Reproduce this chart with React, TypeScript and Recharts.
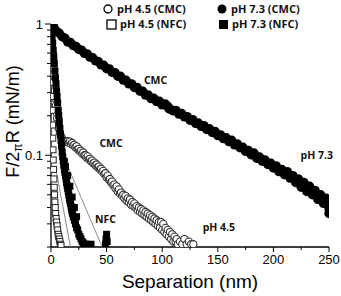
import { ScatterChart, Scatter, XAxis, YAxis, ReferenceDot } from 'recharts';

// [separation (nm), F/2piR (mN/m)]
const cmc73: number[][] = [
  [0, 1.0], [2.5, 0.95], [5, 0.88], [7.5, 0.85], [10, 0.8], [12.5, 0.78], [15, 0.73], [17.5, 0.725],
  [20, 0.685], [22.5, 0.675], [25, 0.64], [27.5, 0.632], [30, 0.598], [32.5, 0.592], [35, 0.56],
  [37.5, 0.553], [40, 0.524], [42.5, 0.518], [45, 0.488], [47.5, 0.485], [50, 0.456], [52.5, 0.455],
  [55, 0.428], [57.5, 0.426], [60, 0.4], [62.5, 0.4], [65, 0.374], [67.5, 0.373], [70, 0.35],
  [72.5, 0.35], [75, 0.328], [77.5, 0.328], [80, 0.308], [82.5, 0.307], [85, 0.287], [87.5, 0.288],
  [90, 0.27], [92.5, 0.272], [95, 0.256], [97.5, 0.258], [100, 0.242], [102.5, 0.246], [105, 0.236],
  [106, 0.226], [107.5, 0.224], [110, 0.218], [112.5, 0.219], [115, 0.206], [117.5, 0.208],
  [120, 0.196], [122.5, 0.197], [125, 0.185], [127.5, 0.187], [130, 0.175], [132.5, 0.176],
  [135, 0.166], [137.5, 0.168], [140, 0.157], [142.5, 0.159], [145, 0.149], [147.5, 0.152],
  [150, 0.141], [152.5, 0.143], [155, 0.134], [157.5, 0.136], [160, 0.127], [162.5, 0.13],
  [165, 0.12], [167.5, 0.122], [170, 0.114], [172.5, 0.115], [175, 0.107], [177.5, 0.109],
  [180, 0.101], [182.5, 0.104], [185, 0.095], [187.5, 0.097], [190, 0.09], [192.5, 0.092],
  [195, 0.085], [197.5, 0.087], [200, 0.08], [202.5, 0.083], [205, 0.075], [207.5, 0.078],
  [210, 0.071], [212.5, 0.075], [215, 0.067], [217.5, 0.07], [220, 0.062], [222.5, 0.066],
  [225, 0.057], [227.5, 0.062], [230, 0.053], [232.5, 0.058], [235, 0.05], [237.5, 0.054],
  [240, 0.046], [242.5, 0.05], [245, 0.043], [247.5, 0.047], [250, 0.039], [249, 0.045], [250, 0.036],
];

const cmc45: number[][] = [
  [0, 1.0], [0.5, 0.85], [1, 0.72], [1.5, 0.6], [2, 0.5], [2.5, 0.42], [3, 0.36], [3.5, 0.31],
  [4, 0.27], [4.5, 0.24], [5, 0.21], [5.5, 0.19], [6, 0.175], [7, 0.16], [8, 0.148], [9, 0.14],
  [10, 0.135], [11, 0.13], [12, 0.128], [13, 0.127], [14, 0.126], [15, 0.128], [16, 0.125],
  [17, 0.127], [18, 0.122], [19, 0.124], [20, 0.119], [21, 0.12], [22, 0.115], [23, 0.117],
  [24, 0.111], [25, 0.112], [26, 0.107], [27, 0.108], [28, 0.103], [29, 0.105], [30, 0.1],
  [31, 0.1], [32, 0.096], [33, 0.098], [34, 0.093], [35, 0.094], [36, 0.09], [37, 0.091],
  [38, 0.087], [39, 0.088], [40, 0.084], [41, 0.085], [42, 0.081], [43, 0.082], [44, 0.078],
  [45, 0.079], [46, 0.075], [47, 0.076], [48, 0.072], [49, 0.073], [50, 0.068], [51, 0.07],
  [52, 0.065], [53, 0.066], [54, 0.062], [55, 0.063], [56, 0.059], [57, 0.06], [58, 0.056],
  [59, 0.058], [60, 0.053], [61, 0.055], [62, 0.051], [63, 0.052], [64, 0.049], [65, 0.05],
  [66, 0.047], [67, 0.049], [68, 0.045], [69, 0.047], [70, 0.044], [71, 0.046], [72, 0.042],
  [73, 0.044], [74, 0.041], [75, 0.043], [76, 0.04], [77, 0.041], [78, 0.038], [79, 0.04],
  [80, 0.037], [81, 0.039], [82, 0.036], [83, 0.038], [84, 0.035], [85, 0.037], [86, 0.034],
  [87, 0.036], [88, 0.033], [89, 0.035], [90, 0.032], [91, 0.034], [92, 0.031], [93, 0.033],
  [94, 0.03], [95, 0.032], [96, 0.029], [97, 0.031], [98, 0.028], [99, 0.031], [100, 0.027],
  [101, 0.03], [102, 0.026], [103, 0.028], [104, 0.025], [105, 0.027], [106, 0.024], [107, 0.026],
  [108, 0.023], [109, 0.025], [110, 0.022], [111, 0.024], [112, 0.022], [113, 0.023], [114, 0.021],
  [116, 0.022], [118, 0.021], [120, 0.023], [122, 0.021], [124, 0.022], [126, 0.021], [128, 0.021],
];

const nfc45: number[][] = [
  [0, 1.0], [0.2, 0.78], [0.4, 0.6], [0.6, 0.46], [0.8, 0.36], [1, 0.28], [1.2, 0.22], [1.4, 0.17],
  [1.6, 0.135], [1.8, 0.11], [2, 0.092], [2.3, 0.078], [2.6, 0.066], [2.9, 0.057], [3.2, 0.05],
  [3.5, 0.044], [3.8, 0.04], [4.2, 0.036], [4.6, 0.033], [5, 0.031], [5.5, 0.029], [6, 0.027],
  [6.5, 0.025], [7, 0.024], [7.5, 0.023], [8, 0.022], [8.5, 0.021], [9, 0.0205],
];

const nfc73: number[][] = [
  [0, 1.0], [0.5, 0.9], [1, 0.8], [1.5, 0.71], [2, 0.63], [2.5, 0.56], [3, 0.5], [3.5, 0.44],
  [4, 0.39], [4.5, 0.35], [5, 0.31], [5.5, 0.28], [6, 0.25], [6.5, 0.22], [7, 0.2], [7.5, 0.18],
  [8, 0.16], [8.5, 0.145], [9, 0.13], [9.5, 0.118], [10, 0.106], [10.5, 0.098], [11, 0.09],
  [11.5, 0.084], [12, 0.078], [12.5, 0.074], [13, 0.07], [13.5, 0.066], [14, 0.062], [14.5, 0.059],
  [15, 0.056], [15.5, 0.053], [16, 0.05], [16.5, 0.047], [17, 0.045], [17.5, 0.043], [18, 0.041],
  [18.5, 0.039], [19, 0.037], [19.5, 0.036], [20, 0.034], [21, 0.032], [22, 0.03], [23, 0.028],
  [24, 0.027], [25, 0.025], [26, 0.024], [27, 0.023], [28, 0.022], [29, 0.0215], [30, 0.021],
  [32, 0.021], [34, 0.0205], [36, 0.021], [12, 0.09], [13, 0.082], [15, 0.07], [17, 0.058],
  [19, 0.048], [21, 0.04], [23, 0.034], [49, 0.021], [49.5, 0.023], [50, 0.025], [50.5, 0.022],
];

const fitA: number[][] = [[12, 0.095], [46, 0.02]];
const fitB: number[][] = [[5, 0.074], [17.5, 0.02]];

const xTicks = [0, 25, 50, 75, 100, 125, 150, 175, 200, 225, 250];
const xLabelled = [0, 50, 100, 150, 200, 250];
const yTicks = [0.02, 0.03, 0.04, 0.05, 0.06, 0.07, 0.08, 0.09, 0.1, 0.2, 0.3, 0.4, 0.5, 0.6, 0.7, 0.8, 0.9, 1];
const yLabelled = [0.1, 1];

const notes = [
  { text: 'CMC', x: 94, y: 0.37 },
  { text: 'CMC', x: 54, y: 0.123 },
  { text: 'pH 7.3', x: 239, y: 0.1 },
  { text: 'NFC', x: 49, y: 0.0325 },
  { text: 'pH 4.5', x: 151, y: 0.028 },
];

const toPts = (arr: number[][]) => arr.map(([x, y]) => ({ x, y }));

const axisFont = '"Liberation Sans", Arial, sans-serif';
const boldFont = '"Open Sans", sans-serif';

const OpenCircle = (p: any) => <circle cx={p.cx} cy={p.cy} r={3.6} fill="#fff" stroke="#333" strokeWidth={1.1} />;
const FilledCircle = (p: any) => <circle cx={p.cx} cy={p.cy} r={4.7} fill="#000" />;
const OpenSquare = (p: any) => <rect x={p.cx - 3} y={p.cy - 3} width={6} height={6} fill="#fff" stroke="#222" strokeWidth={1} />;
const FilledSquare = (p: any) => <rect x={p.cx - 3.5} y={p.cy - 3.5} width={7} height={7} fill="#000" />;
const NoDot = () => <g />;

function XTick({ x, y, payload }: any) {
  const major = xLabelled.includes(payload.value);
  return (
    <g>
      <line x1={x} x2={x} y1={y} y2={y + (major ? 5 : 3)} stroke="#000" />
      {major && (
        <text x={x} y={y + 17} textAnchor="middle" fontSize={13} fontFamily={axisFont} fill="#000">
          {payload.value}
        </text>
      )}
    </g>
  );
}

function YTick({ x, y, payload }: any) {
  const major = yLabelled.includes(payload.value);
  const len = major ? 6 : 4;
  return (
    <g>
      <line x1={x} x2={x - len} y1={y} y2={y} stroke="#000" />
      {major && (
        <text x={x - 8} y={y} dy="0.35em" textAnchor="end" fontSize={13} fontFamily={axisFont} fill="#000">
          {payload.value}
        </text>
      )}
    </g>
  );
}

function YTitle({ viewBox }: any) {
  const cx = viewBox.x + 13;
  const cy = viewBox.y + viewBox.height / 2 - 14;
  return (
    <text x={cx} y={cy} dy="0.35em" textAnchor="middle" transform={`rotate(-90, ${cx}, ${cy})`}
      fontSize={18} fontFamily={axisFont} fill="#000">
      <tspan>F/2</tspan>
      <tspan fontSize={12} dy={3}>π</tspan>
      <tspan dy={-3}>R (mN/m)</tspan>
    </text>
  );
}

function XTitle({ viewBox }: any) {
  return (
    <text x={viewBox.x + viewBox.width / 2} y={viewBox.y + 41} textAnchor="middle"
      fontSize={19} fontFamily={axisFont} fill="#000">
      Separation (nm)
    </text>
  );
}

const legendItems = [
  { label: 'pH 4.5 (CMC)', left: 103, top: 2, shape: 'oc' },
  { label: 'pH 4.5 (NFC)', left: 106, top: 17, shape: 'os' },
  { label: 'pH 7.3 (CMC)', left: 217, top: 2, shape: 'fc' },
  { label: 'pH 7.3 (NFC)', left: 218, top: 17, shape: 'fs' },
];

function LegendSymbol({ shape }: { shape: string }) {
  return (
    <svg width={12} height={12} style={{ marginRight: 2 }}>
      {shape === 'oc' && <circle cx={5} cy={6} r={4} fill="#fff" stroke="#000" strokeWidth={1.3} />}
      {shape === 'fc' && <circle cx={5} cy={6} r={4.5} fill="#000" />}
      {shape === 'os' && <rect x={1} y={2} width={9} height={9} fill="#fff" stroke="#000" strokeWidth={1.3} />}
      {shape === 'fs' && <rect x={1} y={2} width={9} height={9} fill="#000" />}
    </svg>
  );
}

export default function App() {
  return (
    <div style={{ position: 'absolute', left: 0, top: 0, width: 341, height: 296, background: '#fff' }}>
      <ScatterChart width={341} height={296} margin={{ top: 24, right: 12, bottom: 0, left: 0 }}>
        <XAxis
          type="number"
          dataKey="x"
          domain={[0, 250]}
          ticks={xTicks}
          interval={0}
          tickSize={0}
          tickMargin={0}
          tick={<XTick />}
          height={49}
          axisLine={{ stroke: '#000', strokeWidth: 1.3 }}
          allowDataOverflow
          label={<XTitle />}
        />
        <YAxis
          type="number"
          dataKey="y"
          scale="log"
          domain={[0.02, 1]}
          ticks={yTicks}
          interval={0}
          tickSize={0}
          tickMargin={0}
          tick={<YTick />}
          width={51}
          axisLine={{ stroke: '#000', strokeWidth: 1.3 }}
          allowDataOverflow
          label={<YTitle />}
        />
        <Scatter data={toPts(fitA)} line={{ stroke: '#8c8c8c', strokeWidth: 1 }} lineType="joint" shape={NoDot} isAnimationActive={false} />
        <Scatter data={toPts(fitB)} line={{ stroke: '#8c8c8c', strokeWidth: 1 }} lineType="joint" shape={NoDot} isAnimationActive={false} />
        <Scatter name="pH 4.5 (CMC)" data={toPts(cmc45)} shape={OpenCircle} isAnimationActive={false} />
        <Scatter name="pH 4.5 (NFC)" data={toPts(nfc45)} shape={OpenSquare} isAnimationActive={false} />
        <Scatter name="pH 7.3 (CMC)" data={toPts(cmc73)} shape={FilledCircle} isAnimationActive={false} />
        <Scatter name="pH 7.3 (NFC)" data={toPts(nfc73)} shape={FilledSquare} isAnimationActive={false} />
        {notes.map((n, i) => (
          <ReferenceDot
            key={i}
            x={n.x}
            y={n.y}
            shape={(p: any) => (
              <text x={p.cx} y={p.cy} dy="0.35em" textAnchor="middle" fontSize={10.5} fontWeight={700}
                fontFamily={boldFont} fill="#111">
                {n.text}
              </text>
            )}
          />
        ))}
      </ScatterChart>
      {legendItems.map((it) => (
        <div
          key={it.label}
          style={{
            position: 'absolute', left: it.left, top: it.top, display: 'flex', alignItems: 'center',
            fontFamily: boldFont, fontWeight: 700, fontSize: 11, lineHeight: '13px', color: '#111', whiteSpace: 'nowrap',
          }}
        >
          <LegendSymbol shape={it.shape} />
          {it.label}
        </div>
      ))}
    </div>
  );
}
